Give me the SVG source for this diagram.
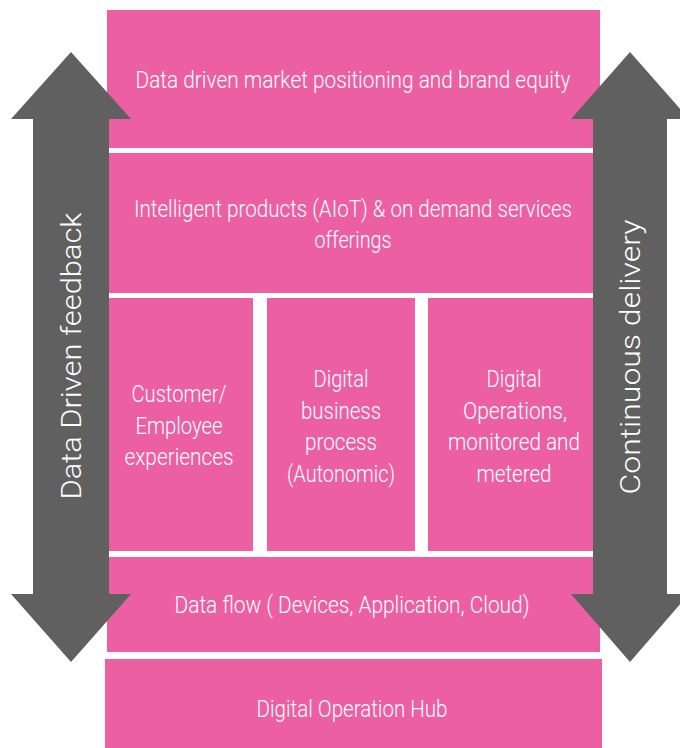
<svg xmlns="http://www.w3.org/2000/svg" width="680" height="748" viewBox="0 0 680 748">
<style>
.box{fill:#EC5FA3}
.t{fill:#ffffff;font-family:Roboto,"Liberation Sans",Arial,sans-serif;font-weight:300;font-size:23px;text-anchor:middle}
.arrow{fill:#606060}
.at{fill:#ffffff;font-family:Roboto,"Liberation Sans",Arial,sans-serif;font-weight:300;font-size:28px;text-anchor:middle}
</style>
<rect width="680" height="748" fill="#ffffff"/>
<g id="market">
<rect class="box" x="107" y="10" width="493" height="138"/>
<text class="t" x="353" y="88" textLength="435" lengthAdjust="spacingAndGlyphs">Data driven market positioning and brand equity</text>
</g>
<g id="products">
<rect class="box" x="107" y="153" width="493" height="140"/>
<text class="t" x="353" y="217" textLength="438" lengthAdjust="spacingAndGlyphs">Intelligent products (AIoT) &amp; on demand services</text>
<text class="t" x="353" y="248" textLength="77" lengthAdjust="spacingAndGlyphs">offerings</text>
</g>
<g id="experiences">
<rect class="box" x="107" y="298" width="146" height="253"/>
<text class="t" x="179" y="402" textLength="95" lengthAdjust="spacingAndGlyphs">Customer/</text>
<text class="t" x="179" y="434" textLength="87" lengthAdjust="spacingAndGlyphs">Employee</text>
<text class="t" x="179" y="465" textLength="109" lengthAdjust="spacingAndGlyphs">experiences</text>
</g>
<g id="process">
<rect class="box" x="267" y="298" width="148" height="253"/>
<text class="t" x="341" y="387" textLength="55" lengthAdjust="spacingAndGlyphs">Digital</text>
<text class="t" x="341" y="419" textLength="80" lengthAdjust="spacingAndGlyphs">business</text>
<text class="t" x="341" y="450" textLength="72" lengthAdjust="spacingAndGlyphs">process</text>
<text class="t" x="341" y="482" textLength="108" lengthAdjust="spacingAndGlyphs">(Autonomic)</text>
</g>
<g id="operations">
<rect class="box" x="428" y="298" width="172" height="253"/>
<text class="t" x="514" y="387" textLength="55" lengthAdjust="spacingAndGlyphs">Digital</text>
<text class="t" x="515" y="419" textLength="104" lengthAdjust="spacingAndGlyphs">Operations,</text>
<text class="t" x="514" y="450" textLength="132" lengthAdjust="spacingAndGlyphs">monitored and</text>
<text class="t" x="514" y="482" textLength="75" lengthAdjust="spacingAndGlyphs">metered</text>
</g>
<g id="dataflow">
<rect class="box" x="107" y="557" width="493" height="95"/>
<text class="t" x="352" y="613" textLength="355" lengthAdjust="spacingAndGlyphs">Data flow ( Devices, Application, Cloud)</text>
</g>
<g id="hub">
<rect class="box" x="105" y="659" width="497" height="89"/>
<text class="t" x="352" y="717" textLength="191" lengthAdjust="spacingAndGlyphs">Digital Operation Hub</text>
</g>
<g id="connectors">
<g id="feedback">
<polygon class="arrow" points="71,52 131,119 109,119 109,594 131,594 71,662 11,594 33,594 33,119 11,119"/>
<text class="at" transform="translate(81,356) rotate(-90)" textLength="287" lengthAdjust="spacingAndGlyphs">Data Driven feedback</text>
</g>
<g id="delivery">
<polygon class="arrow" points="630,52 689,119 667,119 667,594 689,594 630,662 571,594 593,594 593,119 571,119"/>
<text class="at" transform="translate(640,357) rotate(-90)" textLength="275" lengthAdjust="spacingAndGlyphs">Continuous delivery</text>
</g>
</g>
</svg>
